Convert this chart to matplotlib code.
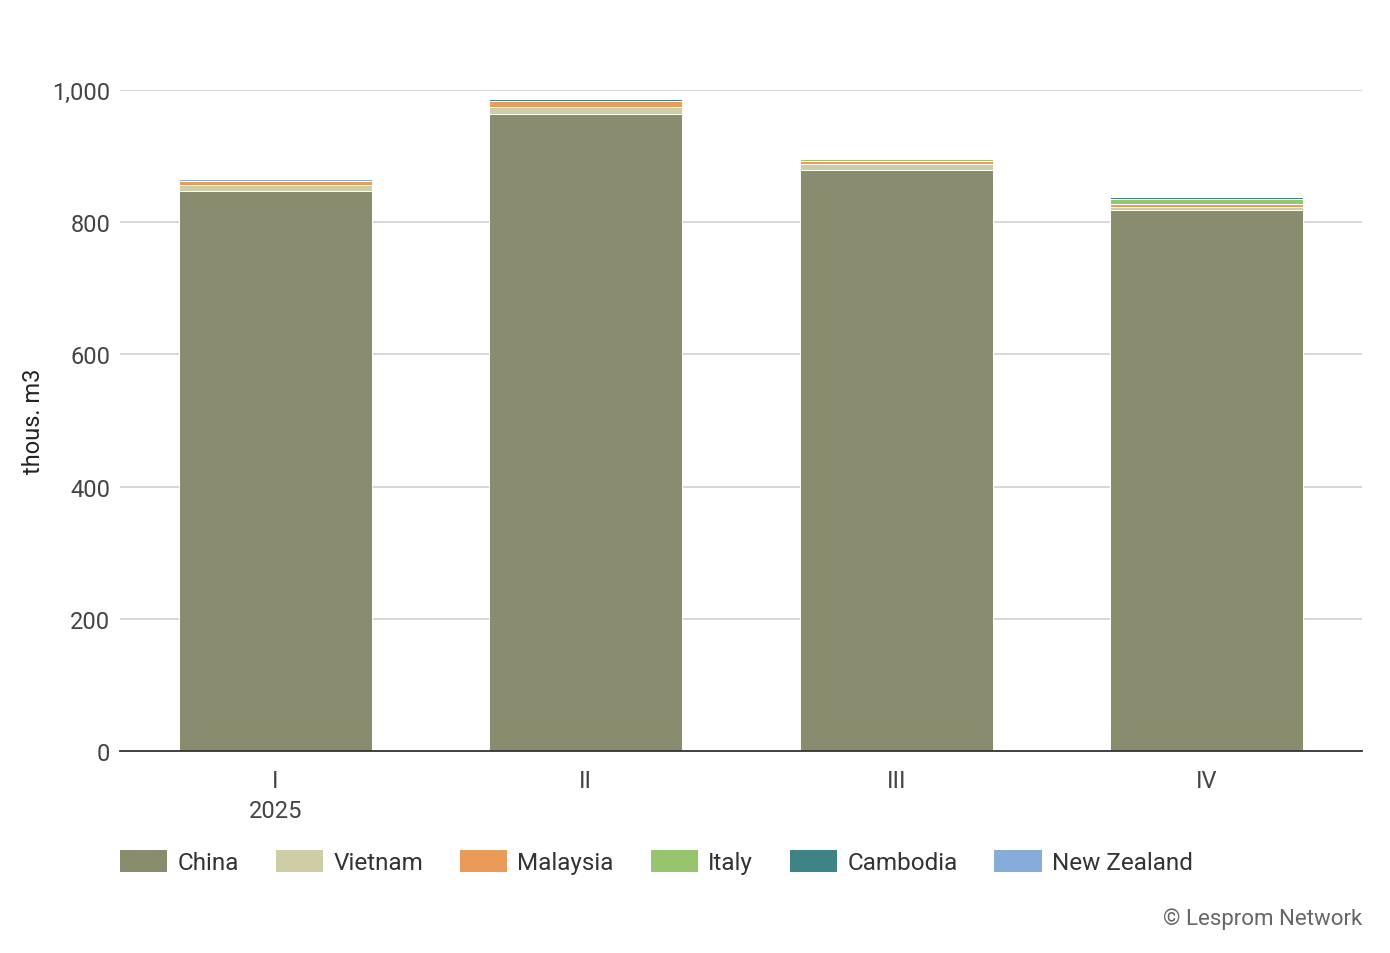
import matplotlib
matplotlib.use("Agg")
import matplotlib.pyplot as plt
import numpy as np

plt.rcParams['font.family'] = ['Roboto', 'DejaVu Sans']

quarters = ["I", "II", "III", "IV"]
countries = ["China", "Vietnam", "Malaysia", "Italy", "Cambodia", "New Zealand"]
colors = ["#8a8c6f", "#cfcda6", "#eb9a58", "#98c46e", "#3e8486", "#86acd9"]
china = [847, 963, 879, 818]
vietnam = [9, 11, 9, 5]
malaysia = [7, 10, 5, 4]
italy = [0, 0, 2, 8]
cambodia = [0, 3, 0, 3]
new_zealand = [3, 0, 0, 0]
series = [china, vietnam, malaysia, italy, cambodia, new_zealand]

fig = plt.figure(figsize=(13.9, 9.54), dpi=100)
ax = fig.add_axes([120/1390, 1-752/954, (1362-120)/1390, (752-91)/954])

x = np.arange(len(quarters))
bottom = np.zeros(len(quarters))
handles = []
for name, vals, c in zip(countries, series, colors):
    vals = np.array(vals, dtype=float)
    b = ax.bar(x, vals, bottom=bottom, width=0.62, color=c, edgecolor='white',
               linewidth=0.7, label=name, zorder=3)
    handles.append(b)
    bottom += vals

ax.set_xlim(-0.5, 3.5)
ax.set_ylim(0, 1000)
ax.set_yticks([0, 200, 400, 600, 800, 1000])
ax.set_yticklabels(["0", "200", "400", "600", "800", "1,000"])
ax.yaxis.grid(True, color="#d0d0d0", linewidth=1.2, zorder=0)
ax.set_axisbelow(True)
for s in ["top", "right", "left"]:
    ax.spines[s].set_visible(False)
ax.spines["bottom"].set_color("#333333")
ax.spines["bottom"].set_linewidth(1.3)
ax.spines["bottom"].set_zorder(5)
ax.tick_params(axis='y', length=0, pad=7, labelsize=17, labelcolor="#444444")
ax.tick_params(axis='x', length=0, pad=13, labelsize=17, labelcolor="#444444")
ax.set_xticks(x)
ax.set_xticklabels(quarters)
ax.set_ylabel("thous. m3", fontsize=17, color="#222222")
ax.yaxis.set_label_coords(-0.06, 0.5)

fig.text(276/1390, 1-812/954, "2025", ha='center', va='center', fontsize=17, color="#444444")

leg = fig.legend(handles=[h.patches[0] for h in handles], labels=countries,
                 loc='center left', bbox_to_anchor=(120/1390, 1-863/954),
                 ncol=6, frameon=False, fontsize=17.5, handlelength=1.95,
                 handleheight=1.05, handletextpad=0.42, columnspacing=1.51,
                 borderaxespad=0, borderpad=0, labelcolor="#333333")
for p in leg.get_patches():
    p.set_edgecolor('none')

fig.text(1362/1390, 1-919/954, "© Lesprom Network", ha='right', va='center',
         fontsize=16, color="#666666")

fig.savefig("out.png", dpi=100, facecolor='white')
